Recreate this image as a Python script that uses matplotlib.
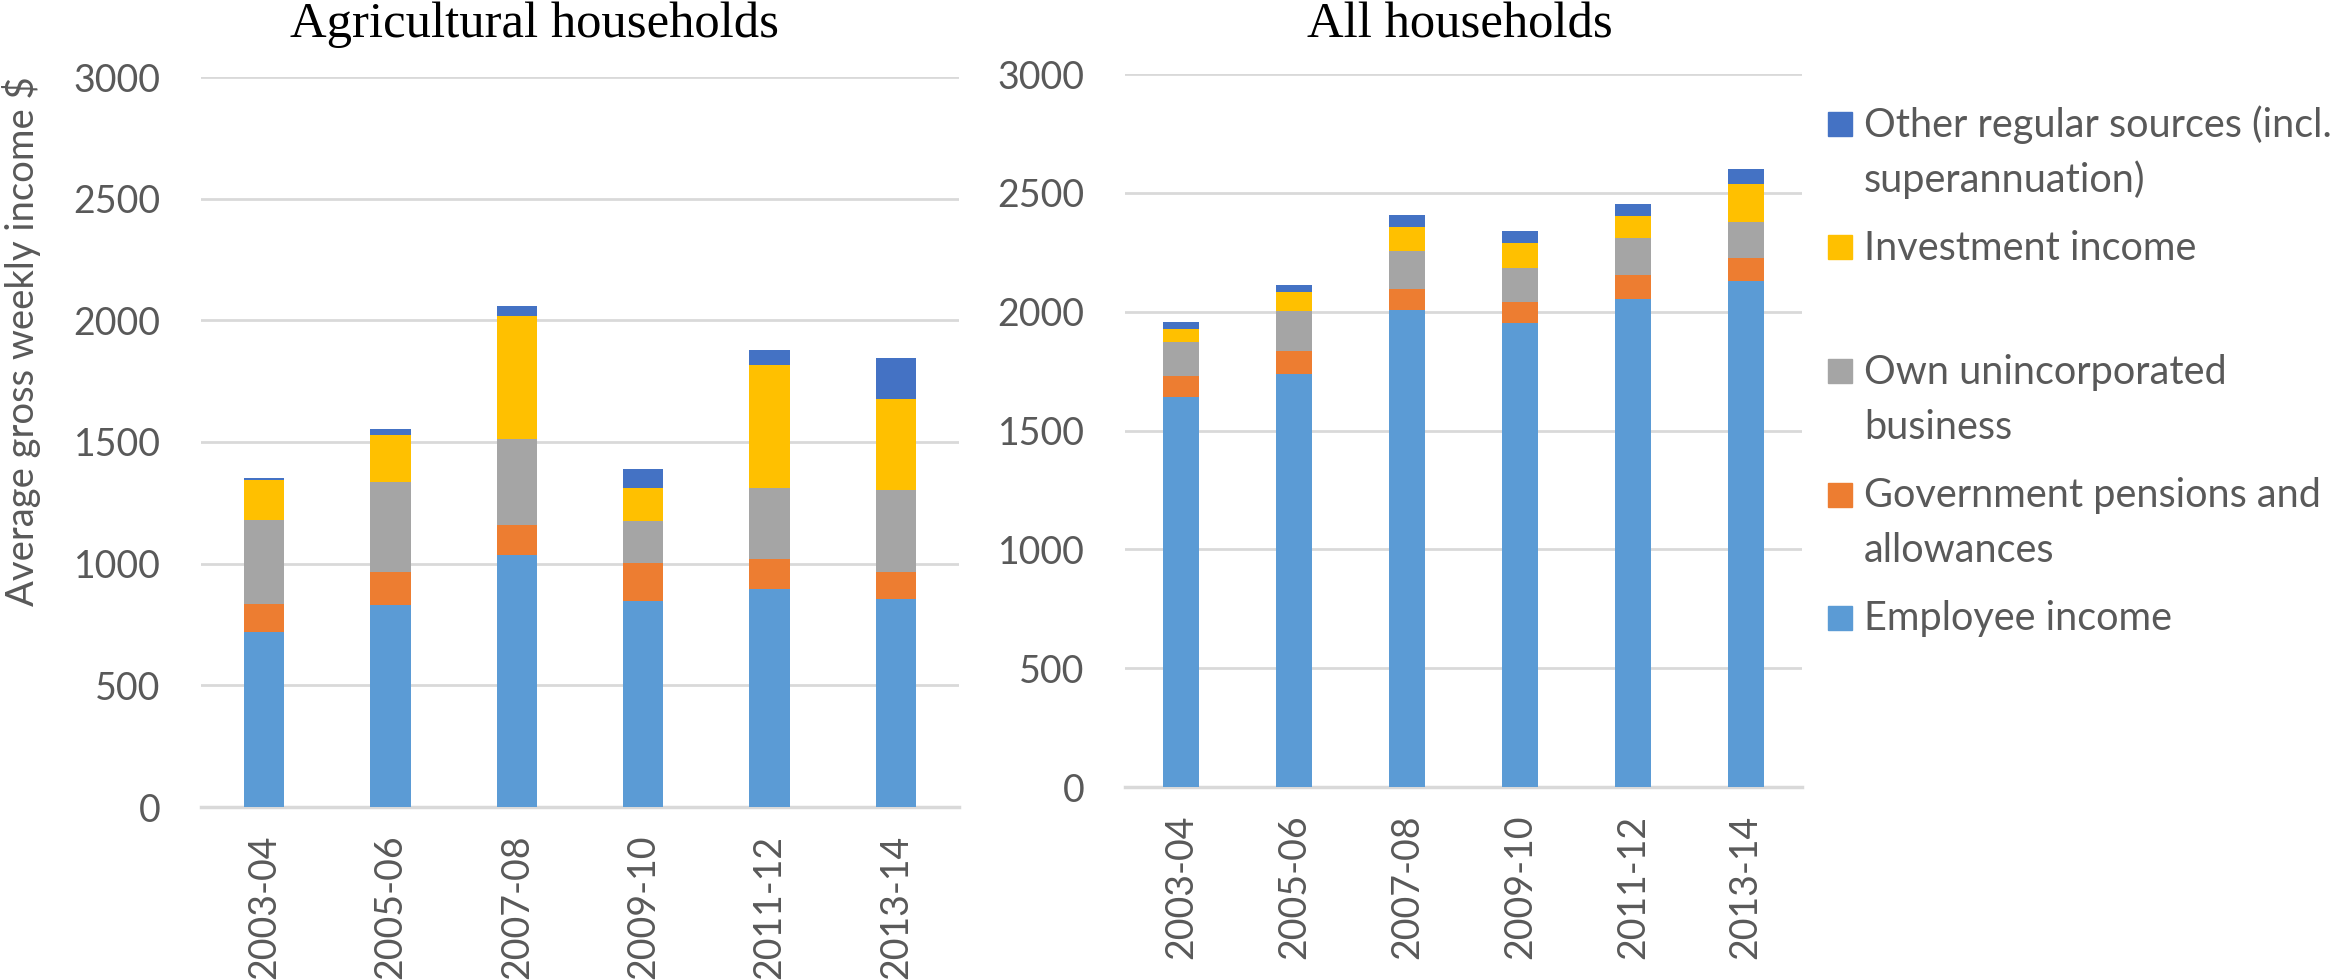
import matplotlib.pyplot as plt
from matplotlib.patches import Rectangle
import numpy as np

periods = ["2003-04", "2005-06", "2007-08", "2009-10", "2011-12", "2013-14"]
series = [["Employee income"],
          ["Government pensions and", "allowances"],
          ["Own unincorporated", "business"],
          ["Investment income"],
          ["Other regular sources (incl.", "superannuation)"]]
colors = ["#5B9BD5", "#ED7D31", "#A5A5A5", "#FFC000", "#4472C4"]

# agricultural households, weekly $ by source
agri_employee = [720, 831, 1035, 846, 894, 853]
agri_govt = [116, 135, 124, 157, 126, 111]
agri_business = [343, 371, 354, 171, 291, 338]
agri_invest = [165, 191, 503, 139, 506, 376]
agri_other = [6, 26, 44, 76, 63, 169]

# all households
all_employee = [1639, 1739, 2007, 1953, 2053, 2131]
all_govt = [89, 94, 87, 89, 103, 96]
all_business = [145, 171, 160, 141, 156, 152]
all_invest = [56, 78, 102, 107, 89, 158]
all_other = [26, 29, 49, 49, 53, 62]

plt.rcParams['font.family'] = ['Lato', 'DejaVu Sans']
tick_col = "#595959"
grid_col = "#D9D9D9"

fig = plt.figure(figsize=(23.31, 9.8), dpi=100)
ax1 = fig.add_axes([201/2331, 1-807/980, 758/2331, 730/980])
ax2 = fig.add_axes([1125/2331, 1-787/980, 677/2331, 713/980])


def draw(ax, stacks):
    x = np.arange(len(periods))
    bottom = np.zeros(len(periods))
    for vals, c in zip(stacks, colors):
        ax.bar(x, vals, 0.32, bottom=bottom, color=c, zorder=3)
        bottom += np.array(vals)
    ax.set_xlim(-0.5, len(periods) - 0.5)
    ax.set_ylim(0, 3000)
    ax.set_yticks(range(0, 3001, 500))
    ax.set_xticks(x)
    ax.set_xticklabels(periods, rotation=90)
    ax.grid(axis='y', color=grid_col, linewidth=2, zorder=0)
    for s in ['top', 'right', 'left']:
        ax.spines[s].set_visible(False)
    ax.spines['bottom'].set_color(grid_col)
    ax.spines['bottom'].set_linewidth(2.5)
    ax.tick_params(axis='y', length=0, pad=29, labelsize=27, labelcolor=tick_col)
    ax.tick_params(axis='x', length=0, pad=20, labelsize=27, labelcolor=tick_col)


draw(ax1, [agri_employee, agri_govt, agri_business, agri_invest, agri_other])
draw(ax2, [all_employee, all_govt, all_business, all_invest, all_other])

fig.text(534/2331, 1-37/980, "Agricultural households", family='Liberation Serif',
         fontsize=36.5, ha='center', va='baseline')
fig.text(1460/2331, 1-37/980, "All households", family='Liberation Serif',
         fontsize=36.5, ha='center', va='baseline')
fig.text(22/2331, 1-341/980, "Average gross weekly income $", rotation=90,
         fontsize=27.5, color=tick_col, ha='center', va='center')

# legend drawn by hand so the square sits on the first line
leg_y = [617.5, 494.5, 371.5, 247.5, 124.5]
for lines, c, yy in zip(series, colors, leg_y):
    fig.add_artist(Rectangle((1828/2331, 1-(yy+12)/980), 24/2331, 24/980,
                             color=c, transform=fig.transFigure))
    for i, line in enumerate(lines):
        fig.text(1864/2331, 1-(yy+12.5+55*i)/980, line, fontsize=28.5,
                 color=tick_col, ha='left', va='baseline')

fig.savefig("out.png", dpi=100)
